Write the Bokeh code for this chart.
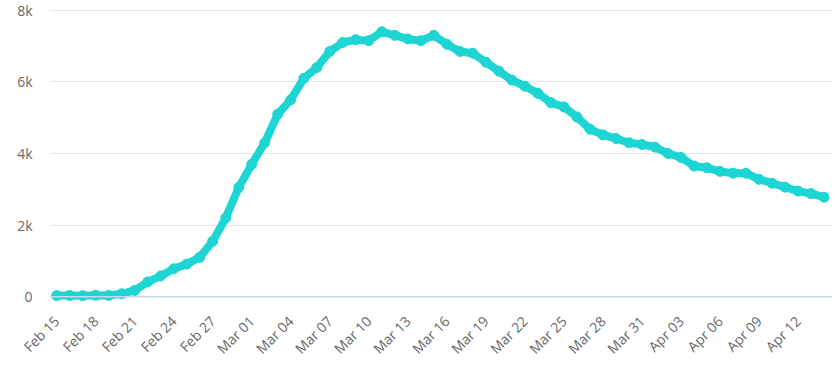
import math
from bokeh.plotting import figure
from bokeh.models import FixedTicker, Span, Range1d
from bokeh.embed import file_html
from bokeh.resources import INLINE

# Data: daily values Feb 15 .. Apr 14 (2020)
day_index = list(range(60))
values = [
    30, 35, 25, 40, 35, 80, 175, 410, 580, 780,
    910, 1100, 1550, 2200, 3050, 3700, 4300, 5100, 5500, 6100,
    6400, 6850, 7100, 7180, 7150, 7400, 7300, 7200, 7150, 7300,
    7050, 6850, 6800, 6550, 6300, 6050, 5880, 5680, 5420, 5300,
    5020, 4680, 4520, 4420, 4300, 4250, 4180, 4000, 3890, 3650,
    3600, 3500, 3450, 3450, 3280, 3170, 3060, 2950, 2880, 2780,
]
x_tick_pos = list(range(0, 60, 3))
x_tick_labels = ["Feb 15", "Feb 18", "Feb 21", "Feb 24", "Feb 27", "Mar 01",
                 "Mar 04", "Mar 07", "Mar 10", "Mar 13", "Mar 16", "Mar 19",
                 "Mar 22", "Mar 25", "Mar 28", "Mar 31", "Apr 03", "Apr 06",
                 "Apr 09", "Apr 12"]
y_tick_pos = [0, 2000, 4000, 6000, 8000]
y_tick_labels = ["0", "2k", "4k", "6k", "8k"]

LINE = "#1dd5d3"
FONT = "Open Sans"

p = figure(width=840, height=367, output_backend="svg", toolbar_location=None,
           x_range=Range1d(-0.55, 59.65), y_range=Range1d(-190, 8050),
           min_border_left=49, min_border_right=8, min_border_top=8,
           min_border_bottom=62)
p.outline_line_color = None
p.background_fill_color = "white"

p.xaxis.ticker = FixedTicker(ticks=x_tick_pos)
p.xaxis.major_label_overrides = {pos: lab for pos, lab in zip(x_tick_pos, x_tick_labels)}
p.xaxis.major_label_orientation = math.pi / 4
p.xaxis.axis_line_color = None
p.xaxis.major_tick_line_color = None
p.xaxis.minor_tick_line_color = None
p.xaxis.major_tick_out = 0
p.xaxis.major_label_standoff = 15
p.xaxis.major_label_text_font = FONT
p.xaxis.major_label_text_font_size = "14px"
p.xaxis.major_label_text_color = "#666666"

p.yaxis.ticker = FixedTicker(ticks=y_tick_pos)
p.yaxis.major_label_overrides = {pos: lab for pos, lab in zip(y_tick_pos, y_tick_labels)}
p.yaxis.axis_line_color = None
p.yaxis.major_tick_line_color = None
p.yaxis.minor_tick_line_color = None
p.yaxis.major_tick_out = 0
p.yaxis.major_label_standoff = 17
p.yaxis.major_label_text_font = FONT
p.yaxis.major_label_text_font_size = "14px"
p.yaxis.major_label_text_color = "#666666"

p.xgrid.grid_line_color = None
p.ygrid.grid_line_color = "#e6e6e6"
p.ygrid.grid_line_width = 1

p.add_layout(Span(location=0, dimension="width", line_color="#ccd6eb", line_width=1.5))

p.line(day_index, values, line_color=LINE, line_width=8)
p.scatter(day_index, values, size=10, fill_color=LINE, line_color=LINE)

open("out.html", "w").write(file_html(p, INLINE))
